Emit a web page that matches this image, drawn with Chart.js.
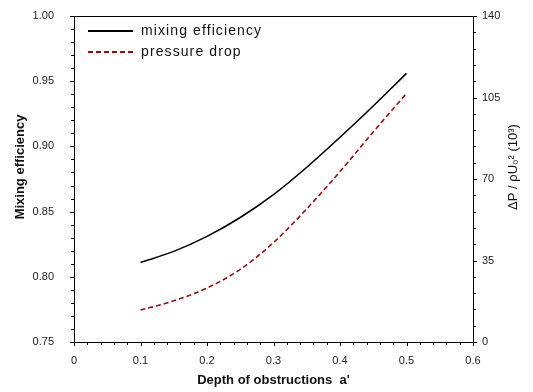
<!DOCTYPE html>
<html>
<head>
<meta charset="utf-8">
<script src="https://cdn.jsdelivr.net/npm/chart.js@4"></script>
<style>
  html, body { margin: 0; padding: 0; background: #fff; }
  #wrap { width: 533px; height: 392px; }
</style>
</head>
<body>
<div id="wrap"><canvas id="myChart"></canvas></div>
<script>
// depth of obstructions a'
const depth = [0.1, 0.15, 0.2, 0.25, 0.3, 0.35, 0.4, 0.45, 0.5];
// mixing efficiency (left axis)
const mixing = [0.811, 0.8195, 0.831, 0.8455, 0.863, 0.884, 0.907, 0.931, 0.956];
// pressure drop, dP / rho U0^2 (10^3) (right axis)
const pressure = [13.7, 17.7, 23.2, 31.2, 42.7, 57.2, 73.2, 90.2, 106.8];

const xTicks = [0, 0.1, 0.2, 0.3, 0.4, 0.5, 0.6];
const leftTicks = [0.75, 0.80, 0.85, 0.90, 0.95, 1.00];
const rightTicks = [0, 35, 70, 105, 140];

const ctx = document.getElementById('myChart').getContext('2d');
const tickFont = { family: 'Liberation Sans', size: 11 };
const FONT = 'Liberation Sans';

// frame, small outward tick marks, legend in the plot and the two y titles
const extras = {
  id: 'extras',
  afterDatasetsDraw(chart) {
    const c = chart.ctx, a = chart.chartArea;
    const sx = chart.scales.x, sl = chart.scales.y, sr = chart.scales.y1;
    c.save();
    c.strokeStyle = '#000';
    c.lineWidth = 1;
    c.strokeRect(Math.round(a.left) + 0.5, Math.round(a.top) + 0.5,
      Math.round(a.right - a.left), Math.round(a.bottom - a.top));
    c.beginPath();
    for (let i = 0; i <= 30; i++) {
      const px = Math.round(sx.getPixelForValue(i * 0.02)) + 0.5;
      const len = i % 5 === 0 ? 4 : 3;
      c.moveTo(px, a.bottom); c.lineTo(px, a.bottom + len);
    }
    for (let i = 0; i <= 25; i++) {
      const py = Math.round(sl.getPixelForValue(0.75 + i * 0.01)) + 0.5;
      const len = i % 5 === 0 ? 4 : 3;
      c.moveTo(a.left, py); c.lineTo(a.left - len, py);
    }
    for (let i = 0; i <= 20; i++) {
      const py = Math.round(sr.getPixelForValue(i * 7)) + 0.5;
      const len = i % 5 === 0 ? 4 : 3;
      c.moveTo(a.right, py); c.lineTo(a.right + len, py);
    }
    c.stroke();

    // legend
    const ds = chart.data.datasets;
    const lx = a.left + 14, ly = a.top + 15;
    ds.forEach((d, i) => {
      const y = ly + i * 21;
      c.beginPath();
      c.strokeStyle = d.borderColor;
      c.lineWidth = 2;
      c.setLineDash(d.borderDash || []);
      c.moveTo(lx, y); c.lineTo(lx + 45, y);
      c.stroke();
      c.setLineDash([]);
      c.fillStyle = '#111';
      c.font = '14px ' + FONT;
      c.letterSpacing = '1.1px';
      c.textBaseline = 'middle';
      c.textAlign = 'left';
      c.fillText(d.label, lx + 53, y);
    });
    c.letterSpacing = '0px';

    // y axis titles, both read bottom to top
    c.fillStyle = '#111';
    c.textAlign = 'center';
    c.textBaseline = 'middle';
    c.save();
    c.translate(20, 167);
    c.rotate(-Math.PI / 2);
    c.font = 'bold 13px ' + FONT;
    c.fillText('Mixing efficiency', 0, 0);
    c.restore();
    c.save();
    c.translate(513, 167);
    c.rotate(-Math.PI / 2);
    c.font = '13px ' + FONT;
    c.fillText('ΔP / ρU₀² (10³)', 0, 0);
    c.restore();
    c.restore();
  }
};

const myChart = new Chart(ctx, {
  type: 'line',
  data: {
    datasets: [{
      label: 'mixing efficiency',
      data: depth.map((x, i) => ({ x: x, y: mixing[i] })),
      yAxisID: 'y',
      borderColor: '#000000',
      borderWidth: 1.6,
      pointRadius: 0,
      cubicInterpolationMode: 'monotone',
      fill: false
    }, {
      label: 'pressure drop',
      data: depth.map((x, i) => ({ x: x, y: pressure[i] })),
      yAxisID: 'y1',
      borderColor: '#9b0e0e',
      borderWidth: 1.6,
      borderDash: [5, 3],
      pointRadius: 0,
      cubicInterpolationMode: 'monotone',
      fill: false
    }]
  },
  options: {
    responsive: true,
    maintainAspectRatio: false,
    animation: false,
    layout: { padding: { top: 16 } },
    plugins: {
      tooltip: { enabled: false },
      legend: { display: false }
    },
    scales: {
      x: {
        type: 'linear',
        min: 0, max: 0.6,
        afterBuildTicks: s => { s.ticks = xTicks.map(v => ({ value: v })); },
        afterFit: s => { s.height = 50; },
        grid: { display: false },
        border: { display: false },
        ticks: {
          padding: 4,
          color: '#222',
          font: tickFont,
          callback: v => v === 0 ? '0' : v.toFixed(1)
        },
        title: {
          display: true,
          text: "Depth of obstructions  a'",
          color: '#111',
          font: { family: FONT, size: 13, weight: 'bold' },
          padding: { top: 10 }
        }
      },
      y: {
        position: 'left',
        min: 0.75, max: 1.0,
        afterBuildTicks: s => { s.ticks = leftTicks.map(v => ({ value: v })); },
        afterFit: s => { s.width = 74; s.paddingTop = 0; s.paddingBottom = 0; },
        grid: { display: false },
        border: { display: false },
        ticks: {
          padding: 12,
          color: '#222',
          font: tickFont,
          callback: v => v.toFixed(2)
        }
      },
      y1: {
        position: 'right',
        min: 0, max: 140,
        afterBuildTicks: s => { s.ticks = rightTicks.map(v => ({ value: v })); },
        afterFit: s => { s.width = 60; s.paddingTop = 0; s.paddingBottom = 0; },
        grid: { display: false },
        border: { display: false },
        ticks: {
          padding: 1,
          color: '#222',
          font: tickFont
        }
      }
    }
  },
  plugins: [extras]
});
</script>
</body>
</html>
